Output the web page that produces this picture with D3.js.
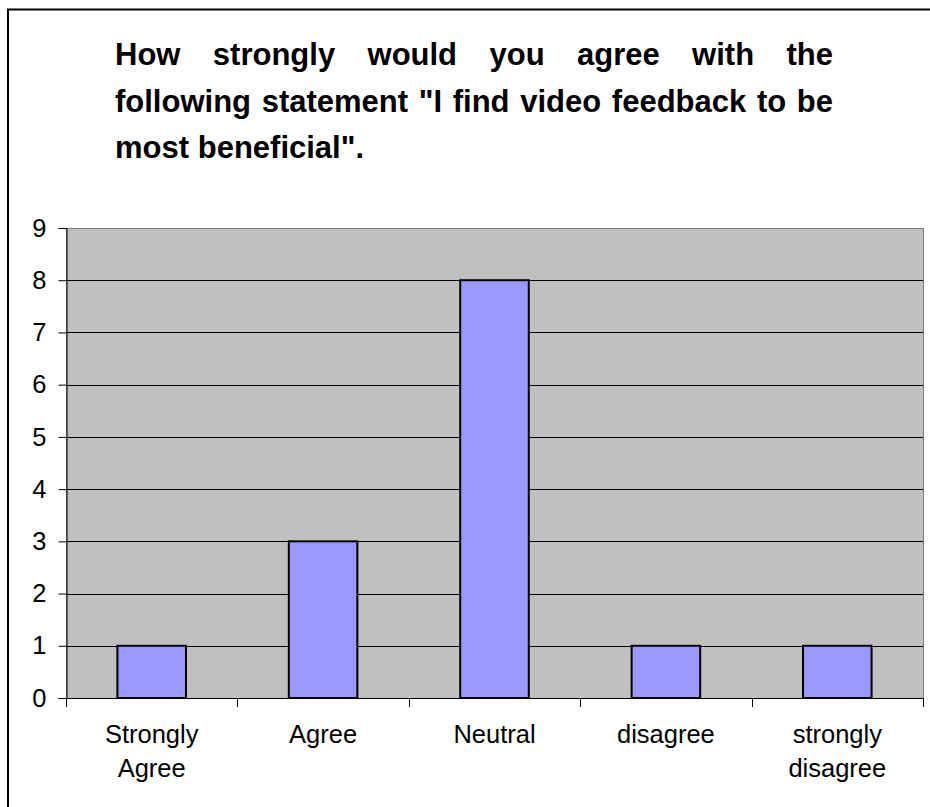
<!DOCTYPE html>
<html>
<head>
<meta charset="utf-8">
<script src="https://cdn.jsdelivr.net/npm/d3@7/dist/d3.min.js"></script>
<style>
  html, body { margin: 0; padding: 0; background: #fff; }
  svg { display: block; }
  text { font-family: Arial, "Liberation Sans", sans-serif; fill: #000; }
</style>
</head>
<body>
<script>
// Survey responses
const categories = [["Strongly", "Agree"], ["Agree"], ["Neutral"], ["disagree"], ["strongly", "disagree"]];
const values = [1, 3, 8, 1, 1];
const yTicks = [0, 1, 2, 3, 4, 5, 6, 7, 8, 9];
const titleLines = [
  "How strongly would you agree with the",
  "following statement \"I find video feedback to be",
  "most beneficial\"."
];

const W = 930, H = 807;
const plot = { left: 66, right: 923, top: 228, bottom: 698 };
const titleSize = 31;
const labelSize = 25.5;

const svg = d3.select("body").append("svg")
  .attr("width", W).attr("height", H);

// Outer chart frame
svg.append("rect")
  .attr("x", 8).attr("y", 9.5)
  .attr("width", 940).attr("height", 820)
  .attr("fill", "#fff").attr("stroke", "#000").attr("stroke-width", 2);

// Title: first lines justified between fixed margins, last line flush left
const titleLeft = 115, titleRight = 833;
const titleBaselines = [65, 112, 158];
const titleG = svg.append("g");
function measure(s) {
  const t = titleG.append("text").attr("font-size", titleSize).attr("font-weight", "bold")
    .attr("xml:space", "preserve").text(s);
  const len = t.node().getComputedTextLength();
  t.remove();
  return len;
}
const spaceW = measure("a a") - measure("aa");
titleLines.forEach((line, i) => {
  const words = line.split(" ");
  const justify = i < titleLines.length - 1;
  const widths = words.map(measure);
  const total = d3.sum(widths);
  const gap = justify ? (titleRight - titleLeft - total) / (words.length - 1) : spaceW;
  let x = titleLeft;
  words.forEach((w, j) => {
    titleG.append("text")
      .attr("x", x).attr("y", titleBaselines[i])
      .attr("font-size", titleSize).attr("font-weight", "bold")
      .text(w);
    x += widths[j] + gap;
  });
});

// Scales
const x = d3.scaleBand()
  .domain(d3.range(values.length))
  .range([plot.left, plot.right])
  .paddingInner(0).paddingOuter(0);
const y = d3.scaleLinear().domain([0, 9]).range([plot.bottom, plot.top]);

// Plot area
svg.append("rect")
  .attr("x", plot.left + 0.5).attr("y", plot.top + 0.5)
  .attr("width", plot.right - plot.left).attr("height", plot.bottom - plot.top)
  .attr("fill", "#c0c0c0").attr("stroke", "#808080").attr("stroke-width", 1);

// Horizontal gridlines
svg.append("g").selectAll("line")
  .data(yTicks.filter(d => d > 0 && d < 9))
  .join("line")
  .attr("x1", plot.left).attr("x2", plot.right)
  .attr("y1", d => Math.round(y(d)) + 0.5).attr("y2", d => Math.round(y(d)) + 0.5)
  .attr("stroke", "#000").attr("stroke-width", 1);

// Bars
const barW = x.bandwidth() * 0.4;
svg.append("g").selectAll("rect")
  .data(values)
  .join("rect")
  .attr("x", (d, i) => x(i) + (x.bandwidth() - barW) / 2)
  .attr("y", d => y(d))
  .attr("width", barW)
  .attr("height", d => y(0) - y(d))
  .attr("fill", "#9999ff")
  .attr("stroke", "#000").attr("stroke-width", 2);

// Y axis
const yAxis = svg.append("g")
  .attr("transform", `translate(${plot.left + 0.5},0)`)
  .call(d3.axisLeft(y).tickValues(yTicks).tickSize(8).tickPadding(12).tickFormat(d3.format("d")));
yAxis.attr("font-family", null).attr("font-size", null);
yAxis.select(".domain").attr("stroke", "#000");
yAxis.selectAll(".tick line").attr("stroke", "#000");
yAxis.selectAll(".tick text")
  .attr("font-size", labelSize).attr("fill", "#000");

// X axis: ticks at category boundaries
const boundaries = d3.range(values.length + 1).map(i => i < values.length ? x(i) : plot.right);
const xAxisG = svg.append("g");
xAxisG.append("line")
  .attr("x1", plot.left).attr("x2", plot.right + 0.5)
  .attr("y1", plot.bottom + 0.5).attr("y2", plot.bottom + 0.5)
  .attr("stroke", "#000");
xAxisG.selectAll("line.tk")
  .data(boundaries)
  .join("line").attr("class", "tk")
  .attr("x1", d => Math.round(d) + 0.5).attr("x2", d => Math.round(d) + 0.5)
  .attr("y1", plot.bottom).attr("y2", plot.bottom + 9)
  .attr("stroke", "#000");

// Category labels
const labelG = svg.append("g");
categories.forEach((lines, i) => {
  const t = labelG.append("text")
    .attr("text-anchor", "middle")
    .attr("font-size", labelSize);
  lines.forEach((ln, k) => {
    t.append("tspan")
      .attr("x", x(i) + x.bandwidth() / 2)
      .attr("y", 743 + k * 34)
      .text(ln);
  });
});
</script>
</body>
</html>
